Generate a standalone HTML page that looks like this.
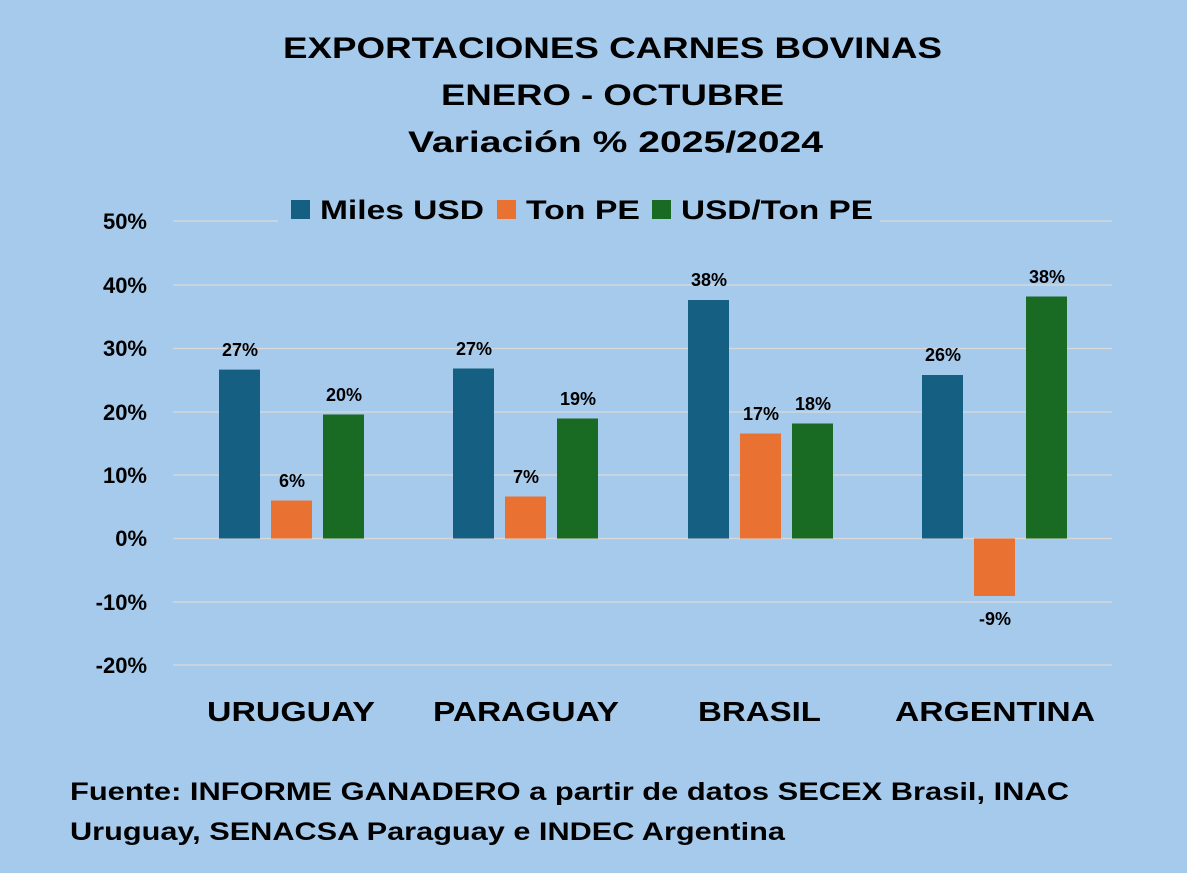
<!DOCTYPE html>
<html><head><meta charset="utf-8"><style>
body{margin:0;background:#a6caec;}
svg{display:block;font-family:"Liberation Sans",Arial,sans-serif;font-weight:bold;}
</style></head><body>
<svg width="1187" height="873" viewBox="0 0 1187 873">
<rect width="1187" height="873" fill="#a6caec"/>
<g font-size="30" fill="#000" lengthAdjust="spacingAndGlyphs">
<text x="283" y="58" textLength="659" lengthAdjust="spacingAndGlyphs">EXPORTACIONES CARNES BOVINAS</text>
<text x="441" y="105" textLength="343" lengthAdjust="spacingAndGlyphs">ENERO - OCTUBRE</text>
<text x="408" y="152" textLength="415" lengthAdjust="spacingAndGlyphs">Variación % 2025/2024</text>
</g>
<g stroke="#d9d9d9" stroke-width="1.2">
<line x1="173" x2="278" y1="221" y2="221"/><line x1="880" x2="1112" y1="221" y2="221"/>
<line x1="173" x2="1112" y1="285" y2="285"/>
<line x1="173" x2="1112" y1="348.5" y2="348.5"/>
<line x1="173" x2="1112" y1="412" y2="412"/>
<line x1="173" x2="1112" y1="475" y2="475"/>
<line x1="173" x2="1112" y1="538.5" y2="538.5"/>
<line x1="173" x2="1112" y1="602" y2="602"/>
<line x1="173" x2="1112" y1="665" y2="665"/>
</g>
<g font-size="22" text-anchor="end">
<text x="147" y="229">50%</text><text x="147" y="293">40%</text><text x="147" y="356">30%</text><text x="147" y="420">20%</text><text x="147" y="483">10%</text><text x="147" y="546">0%</text><text x="147" y="610">-10%</text><text x="147" y="673">-20%</text>
</g>
<g font-size="27">
<rect x="291" y="200" width="19" height="19" fill="#156082"/><text x="320" y="219" textLength="164" lengthAdjust="spacingAndGlyphs">Miles USD</text>
<rect x="497" y="200" width="19" height="19" fill="#e97132"/><text x="526" y="219" textLength="114" lengthAdjust="spacingAndGlyphs">Ton PE</text>
<rect x="652" y="200" width="19" height="19" fill="#196b24"/><text x="681" y="219" textLength="192" lengthAdjust="spacingAndGlyphs">USD/Ton PE</text>
</g>
<g>
<rect x="219" y="369.6" width="41" height="168.9" fill="#156082"/>
<rect x="271" y="500.5" width="41" height="38" fill="#e97132"/>
<rect x="323" y="414.5" width="41" height="124" fill="#196b24"/>
<rect x="453" y="368.5" width="41" height="170" fill="#156082"/>
<rect x="505" y="496.5" width="41" height="42" fill="#e97132"/>
<rect x="557" y="418.5" width="41" height="120" fill="#196b24"/>
<rect x="688" y="300" width="41" height="238.5" fill="#156082"/>
<rect x="740" y="433.5" width="41" height="105" fill="#e97132"/>
<rect x="792" y="423.5" width="41" height="115" fill="#196b24"/>
<rect x="922" y="375" width="41" height="163.5" fill="#156082"/>
<rect x="974" y="538.5" width="41" height="57.5" fill="#e97132"/>
<rect x="1026" y="296.5" width="41" height="242" fill="#196b24"/>
</g>
<g font-size="18" text-anchor="middle">
<text x="240" y="356">27%</text><text x="292" y="487">6%</text><text x="344" y="401">20%</text>
<text x="474" y="355">27%</text><text x="526" y="483">7%</text><text x="578" y="405">19%</text>
<text x="709" y="286">38%</text><text x="761" y="420">17%</text><text x="813" y="410">18%</text>
<text x="943" y="361">26%</text><text x="995" y="625">-9%</text><text x="1047" y="283">38%</text>
</g>
<g font-size="28">
<text x="207" y="721" textLength="168" lengthAdjust="spacingAndGlyphs">URUGUAY</text>
<text x="433" y="721" textLength="186" lengthAdjust="spacingAndGlyphs">PARAGUAY</text>
<text x="698" y="721" textLength="123" lengthAdjust="spacingAndGlyphs">BRASIL</text>
<text x="895" y="721" textLength="200" lengthAdjust="spacingAndGlyphs">ARGENTINA</text>
</g>
<g font-size="25">
<text x="70" y="800" textLength="999" lengthAdjust="spacingAndGlyphs">Fuente: INFORME GANADERO a partir de datos SECEX Brasil, INAC</text>
<text x="70" y="840" textLength="715" lengthAdjust="spacingAndGlyphs">Uruguay, SENACSA Paraguay e INDEC Argentina</text>
</g>
</svg>
</body></html>
